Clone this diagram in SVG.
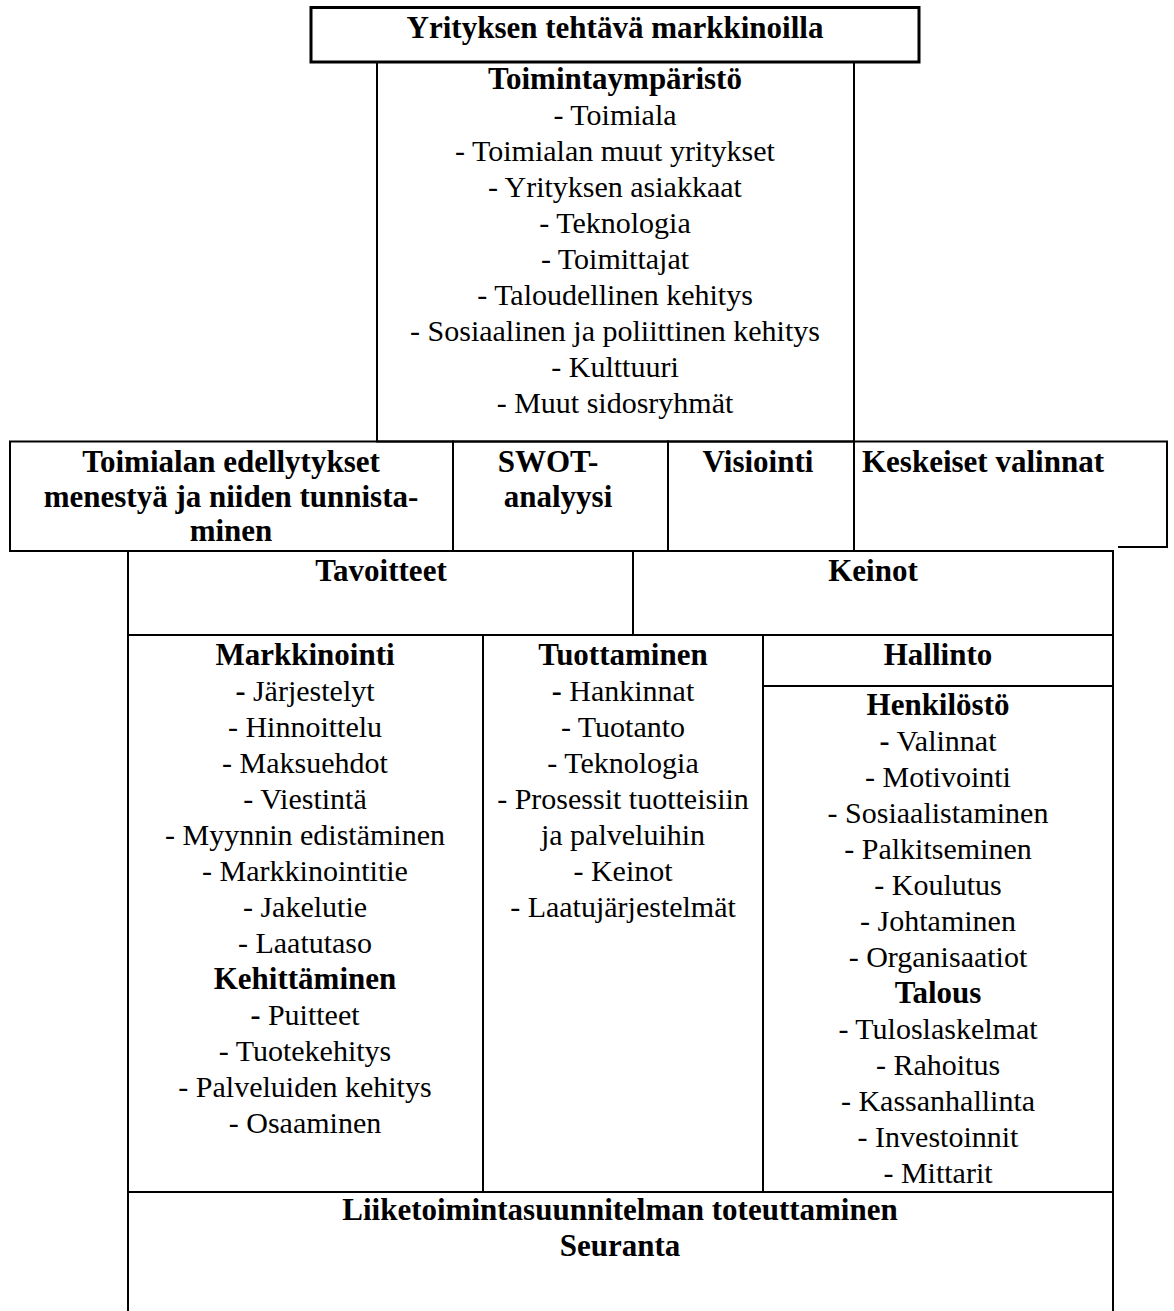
<svg xmlns="http://www.w3.org/2000/svg" width="1174" height="1311" viewBox="0 0 1174 1311">
<style>
  .box { fill: none; stroke: #000; stroke-width: 2; }
  .thick { stroke-width: 3; }
  .b { font-weight: bold; font-size: 31px; fill: #000; }
  .r { font-size: 30px; fill: #000; }
  .bd { font-weight: bold; }
</style>
<rect x="0" y="0" width="1174" height="1311" fill="#fff"/>
<g id="connectors"></g>
<g id="yritys">
  <rect class="box thick" x="311" y="7.5" width="608" height="54.5"/>
  <text font-size="31" font-weight="bold" font-family="Liberation Serif" text-anchor="middle" x="615" y="38">Yrityksen tehtävä markkinoilla</text>
</g>
<g id="toimintaymparisto" font-family="Liberation Serif" text-anchor="middle" font-size="30">
  <rect class="box" x="377" y="62" width="477" height="379.5"/>
  <text font-weight="bold" font-size="31" x="615" y="89">Toimintaympäristö</text>
  <text x="615" y="125">- Toimiala</text>
  <text x="615" y="161">- Toimialan muut yritykset</text>
  <text x="615" y="197">- Yrityksen asiakkaat</text>
  <text x="615" y="233">- Teknologia</text>
  <text x="615" y="269">- Toimittajat</text>
  <text x="615" y="305">- Taloudellinen kehitys</text>
  <text x="615" y="341">- Sosiaalinen ja poliittinen kehitys</text>
  <text x="615" y="377">- Kulttuuri</text>
  <text x="615" y="413">- Muut sidosryhmät</text>
</g>
<g id="edellytykset" font-family="Liberation Serif" text-anchor="middle">
  <rect class="box" x="10" y="441.5" width="443" height="109.5"/>
  <text class="b" x="231" y="472">Toimialan edellytykset</text>
  <text class="b" x="231" y="507">menestyä ja niiden tunnista-</text>
  <text class="b" x="231" y="541">minen</text>
</g>
<g id="swot" font-family="Liberation Serif" text-anchor="middle">
  <rect class="box" x="453" y="441.5" width="215" height="109.5"/>
  <text class="b" x="548" y="472">SWOT-</text>
  <text class="b" x="558" y="507">analyysi</text>
</g>
<g id="visiointi" font-family="Liberation Serif" text-anchor="middle">
  <rect class="box" x="668" y="441.5" width="186" height="109.5"/>
  <text class="b" x="758" y="472">Visiointi</text>
</g>
<g id="keskeiset" font-family="Liberation Serif">
  <path class="box" d="M854,441.5 H1167 V547 H1118"/>
  <text class="b" x="862" y="472">Keskeiset valinnat</text>
</g>
<g id="tavoitteet" font-family="Liberation Serif" text-anchor="middle">
  <rect class="box" x="128" y="551" width="505" height="84"/>
  <text class="b" x="381" y="581">Tavoitteet</text>
</g>
<g id="keinot" font-family="Liberation Serif" text-anchor="middle">
  <rect class="box" x="633" y="551" width="480" height="84"/>
  <text class="b" x="873" y="581">Keinot</text>
</g>
<g id="markkinointi" font-family="Liberation Serif" text-anchor="middle">
  <rect class="box" x="128" y="635" width="355" height="557"/>
  <text class="b" x="305" y="665">Markkinointi</text>
  <text class="r" x="305" y="701"><tspan class="bd">-</tspan> Järjestelyt</text>
  <text class="r" x="305" y="737">- Hinnoittelu</text>
  <text class="r" x="305" y="773">- Maksuehdot</text>
  <text class="r" x="305" y="809">- Viestintä</text>
  <text class="r" x="305" y="845">- Myynnin edistäminen</text>
  <text class="r" x="305" y="881">- Markkinointitie</text>
  <text class="r" x="305" y="917">- Jakelutie</text>
  <text class="r" x="305" y="953">- Laatutaso</text>
  <text class="b" x="305" y="989">Kehittäminen</text>
  <text class="r" x="305" y="1025"><tspan class="bd">-</tspan> Puitteet</text>
  <text class="r" x="305" y="1061">- Tuotekehitys</text>
  <text class="r" x="305" y="1097">- Palveluiden kehitys</text>
  <text class="r" x="305" y="1133">- Osaaminen</text>
</g>
<g id="tuottaminen" font-family="Liberation Serif" text-anchor="middle">
  <rect class="box" x="483" y="635" width="280" height="557"/>
  <text class="b" x="623" y="665">Tuottaminen</text>
  <text class="r" x="623" y="701"><tspan class="bd">-</tspan> Hankinnat</text>
  <text class="r" x="623" y="737">- Tuotanto</text>
  <text class="r" x="623" y="773">- Teknologia</text>
  <text class="r" x="623" y="809">- Prosessit tuotteisiin</text>
  <text class="r" x="623" y="845">ja palveluihin</text>
  <text class="r" x="623" y="881">- Keinot</text>
  <text class="r" x="623" y="917">- Laatujärjestelmät</text>
</g>
<g id="hallinto" font-family="Liberation Serif" text-anchor="middle">
  <rect class="box" x="763" y="635" width="350" height="51"/>
  <text class="b" x="938" y="665">Hallinto</text>
</g>
<g id="henkilosto" font-family="Liberation Serif" text-anchor="middle">
  <rect class="box" x="763" y="686" width="350" height="506"/>
  <text class="b" x="938" y="715">Henkilöstö</text>
  <text class="r" x="938" y="751"><tspan class="bd">-</tspan> Valinnat</text>
  <text class="r" x="938" y="787">- Motivointi</text>
  <text class="r" x="938" y="823">- Sosiaalistaminen</text>
  <text class="r" x="938" y="859">- Palkitseminen</text>
  <text class="r" x="938" y="895">- Koulutus</text>
  <text class="r" x="938" y="931">- Johtaminen</text>
  <text class="r" x="938" y="967">- Organisaatiot</text>
  <text class="b" x="938" y="1003">Talous</text>
  <text class="r" x="938" y="1039">- Tuloslaskelmat</text>
  <text class="r" x="938" y="1075">- Rahoitus</text>
  <text class="r" x="938" y="1111">- Kassanhallinta</text>
  <text class="r" x="938" y="1147">- Investoinnit</text>
  <text class="r" x="938" y="1183">- Mittarit</text>
</g>
<g id="toteuttaminen" font-family="Liberation Serif" text-anchor="middle">
  <path class="box" d="M128,1311 V1192 H1113 V1311"/>
  <text class="b" x="620" y="1220">Liiketoimintasuunnitelman toteuttaminen</text>
  <text class="b" x="620" y="1256">Seuranta</text>
</g>
</svg>
